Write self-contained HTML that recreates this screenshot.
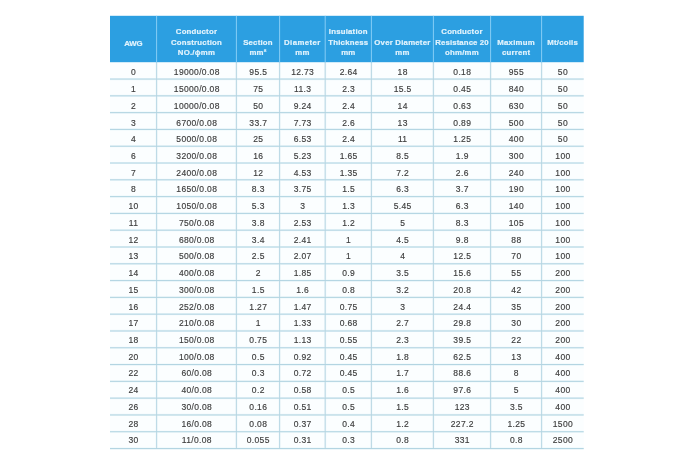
<!DOCTYPE html>
<html><head><meta charset="utf-8"><title>AWG table</title>
<style>
html,body{margin:0;padding:0;background:#fff;}
body{width:700px;height:467px;position:relative;overflow:hidden;font-family:"Liberation Sans",sans-serif;}
.hd{position:absolute;background:#2c9fe1;}
.hl{position:absolute;background:#86cdf6;width:1px;}
.h{position:absolute;text-align:center;color:#e1f3fd;-webkit-text-stroke:0.2px #e1f3fd;font-weight:bold;font-size:7.8px;line-height:10.85px;letter-spacing:0.22px;white-space:nowrap;}
.rl{position:absolute;height:1px;background:#b4dbec;}
.vl{position:absolute;width:1px;background:#b9deee;}
.c{position:absolute;text-align:center;color:#3c3c3c;-webkit-text-stroke:0.15px #3c3c3c;font-size:8.5px;line-height:10px;letter-spacing:0.34px;white-space:nowrap;}
</style></head><body>

<svg width="700" height="467" viewBox="0 0 700 467" style="position:absolute;left:0;top:0">
<rect x="110" y="62.2" width="473.7" height="386.34" fill="#fbfeff"/>
<line x1="110" x2="583.7" y1="79.05" y2="79.05" stroke="#ecf7fb" stroke-width="2.2"/>
<line x1="110" x2="583.7" y1="95.84" y2="95.84" stroke="#ecf7fb" stroke-width="2.2"/>
<line x1="110" x2="583.7" y1="112.64" y2="112.64" stroke="#ecf7fb" stroke-width="2.2"/>
<line x1="110" x2="583.7" y1="129.43" y2="129.43" stroke="#ecf7fb" stroke-width="2.2"/>
<line x1="110" x2="583.7" y1="146.23" y2="146.23" stroke="#ecf7fb" stroke-width="2.2"/>
<line x1="110" x2="583.7" y1="163.02" y2="163.02" stroke="#ecf7fb" stroke-width="2.2"/>
<line x1="110" x2="583.7" y1="179.81" y2="179.81" stroke="#ecf7fb" stroke-width="2.2"/>
<line x1="110" x2="583.7" y1="196.61" y2="196.61" stroke="#ecf7fb" stroke-width="2.2"/>
<line x1="110" x2="583.7" y1="213.41" y2="213.41" stroke="#ecf7fb" stroke-width="2.2"/>
<line x1="110" x2="583.7" y1="230.20" y2="230.20" stroke="#ecf7fb" stroke-width="2.2"/>
<line x1="110" x2="583.7" y1="247.00" y2="247.00" stroke="#ecf7fb" stroke-width="2.2"/>
<line x1="110" x2="583.7" y1="263.79" y2="263.79" stroke="#ecf7fb" stroke-width="2.2"/>
<line x1="110" x2="583.7" y1="280.59" y2="280.59" stroke="#ecf7fb" stroke-width="2.2"/>
<line x1="110" x2="583.7" y1="297.38" y2="297.38" stroke="#ecf7fb" stroke-width="2.2"/>
<line x1="110" x2="583.7" y1="314.18" y2="314.18" stroke="#ecf7fb" stroke-width="2.2"/>
<line x1="110" x2="583.7" y1="330.97" y2="330.97" stroke="#ecf7fb" stroke-width="2.2"/>
<line x1="110" x2="583.7" y1="347.77" y2="347.77" stroke="#ecf7fb" stroke-width="2.2"/>
<line x1="110" x2="583.7" y1="364.56" y2="364.56" stroke="#ecf7fb" stroke-width="2.2"/>
<line x1="110" x2="583.7" y1="381.36" y2="381.36" stroke="#ecf7fb" stroke-width="2.2"/>
<line x1="110" x2="583.7" y1="398.15" y2="398.15" stroke="#ecf7fb" stroke-width="2.2"/>
<line x1="110" x2="583.7" y1="414.95" y2="414.95" stroke="#ecf7fb" stroke-width="2.2"/>
<line x1="110" x2="583.7" y1="431.74" y2="431.74" stroke="#ecf7fb" stroke-width="2.2"/>
<line x1="110" x2="583.7" y1="448.54" y2="448.54" stroke="#ecf7fb" stroke-width="2.2"/>
<line x1="156.6" x2="156.6" y1="62.2" y2="448.54" stroke="#eff8fb" stroke-width="2.2"/>
<line x1="236.4" x2="236.4" y1="62.2" y2="448.54" stroke="#eff8fb" stroke-width="2.2"/>
<line x1="279.6" x2="279.6" y1="62.2" y2="448.54" stroke="#eff8fb" stroke-width="2.2"/>
<line x1="325.2" x2="325.2" y1="62.2" y2="448.54" stroke="#eff8fb" stroke-width="2.2"/>
<line x1="371.4" x2="371.4" y1="62.2" y2="448.54" stroke="#eff8fb" stroke-width="2.2"/>
<line x1="433.4" x2="433.4" y1="62.2" y2="448.54" stroke="#eff8fb" stroke-width="2.2"/>
<line x1="490.6" x2="490.6" y1="62.2" y2="448.54" stroke="#eff8fb" stroke-width="2.2"/>
<line x1="541.6" x2="541.6" y1="62.2" y2="448.54" stroke="#eff8fb" stroke-width="2.2"/>
<line x1="110" x2="583.7" y1="79.05" y2="79.05" stroke="#a9cfde" stroke-width="0.9"/>
<line x1="110" x2="583.7" y1="95.84" y2="95.84" stroke="#a9cfde" stroke-width="0.9"/>
<line x1="110" x2="583.7" y1="112.64" y2="112.64" stroke="#a9cfde" stroke-width="0.9"/>
<line x1="110" x2="583.7" y1="129.43" y2="129.43" stroke="#a9cfde" stroke-width="0.9"/>
<line x1="110" x2="583.7" y1="146.23" y2="146.23" stroke="#a9cfde" stroke-width="0.9"/>
<line x1="110" x2="583.7" y1="163.02" y2="163.02" stroke="#a9cfde" stroke-width="0.9"/>
<line x1="110" x2="583.7" y1="179.81" y2="179.81" stroke="#a9cfde" stroke-width="0.9"/>
<line x1="110" x2="583.7" y1="196.61" y2="196.61" stroke="#a9cfde" stroke-width="0.9"/>
<line x1="110" x2="583.7" y1="213.41" y2="213.41" stroke="#a9cfde" stroke-width="0.9"/>
<line x1="110" x2="583.7" y1="230.20" y2="230.20" stroke="#a9cfde" stroke-width="0.9"/>
<line x1="110" x2="583.7" y1="247.00" y2="247.00" stroke="#a9cfde" stroke-width="0.9"/>
<line x1="110" x2="583.7" y1="263.79" y2="263.79" stroke="#a9cfde" stroke-width="0.9"/>
<line x1="110" x2="583.7" y1="280.59" y2="280.59" stroke="#a9cfde" stroke-width="0.9"/>
<line x1="110" x2="583.7" y1="297.38" y2="297.38" stroke="#a9cfde" stroke-width="0.9"/>
<line x1="110" x2="583.7" y1="314.18" y2="314.18" stroke="#a9cfde" stroke-width="0.9"/>
<line x1="110" x2="583.7" y1="330.97" y2="330.97" stroke="#a9cfde" stroke-width="0.9"/>
<line x1="110" x2="583.7" y1="347.77" y2="347.77" stroke="#a9cfde" stroke-width="0.9"/>
<line x1="110" x2="583.7" y1="364.56" y2="364.56" stroke="#a9cfde" stroke-width="0.9"/>
<line x1="110" x2="583.7" y1="381.36" y2="381.36" stroke="#a9cfde" stroke-width="0.9"/>
<line x1="110" x2="583.7" y1="398.15" y2="398.15" stroke="#a9cfde" stroke-width="0.9"/>
<line x1="110" x2="583.7" y1="414.95" y2="414.95" stroke="#a9cfde" stroke-width="0.9"/>
<line x1="110" x2="583.7" y1="431.74" y2="431.74" stroke="#a9cfde" stroke-width="0.9"/>
<line x1="110" x2="583.7" y1="448.54" y2="448.54" stroke="#a9cfde" stroke-width="0.9"/>
<line x1="156.6" x2="156.6" y1="62.2" y2="448.54" stroke="#b2d4e1" stroke-width="0.9"/>
<line x1="236.4" x2="236.4" y1="62.2" y2="448.54" stroke="#b2d4e1" stroke-width="0.9"/>
<line x1="279.6" x2="279.6" y1="62.2" y2="448.54" stroke="#b2d4e1" stroke-width="0.9"/>
<line x1="325.2" x2="325.2" y1="62.2" y2="448.54" stroke="#b2d4e1" stroke-width="0.9"/>
<line x1="371.4" x2="371.4" y1="62.2" y2="448.54" stroke="#b2d4e1" stroke-width="0.9"/>
<line x1="433.4" x2="433.4" y1="62.2" y2="448.54" stroke="#b2d4e1" stroke-width="0.9"/>
<line x1="490.6" x2="490.6" y1="62.2" y2="448.54" stroke="#b2d4e1" stroke-width="0.9"/>
<line x1="541.6" x2="541.6" y1="62.2" y2="448.54" stroke="#b2d4e1" stroke-width="0.9"/>
<rect x="110" y="15.8" width="473.7" height="46.4" fill="#2c9fe1"/>
<line x1="156.6" x2="156.6" y1="15.8" y2="62.2" stroke="#86cdf6" stroke-width="1"/>
<line x1="236.4" x2="236.4" y1="15.8" y2="62.2" stroke="#86cdf6" stroke-width="1"/>
<line x1="279.6" x2="279.6" y1="15.8" y2="62.2" stroke="#86cdf6" stroke-width="1"/>
<line x1="325.2" x2="325.2" y1="15.8" y2="62.2" stroke="#86cdf6" stroke-width="1"/>
<line x1="371.4" x2="371.4" y1="15.8" y2="62.2" stroke="#86cdf6" stroke-width="1"/>
<line x1="433.4" x2="433.4" y1="15.8" y2="62.2" stroke="#86cdf6" stroke-width="1"/>
<line x1="490.6" x2="490.6" y1="15.8" y2="62.2" stroke="#86cdf6" stroke-width="1"/>
<line x1="541.6" x2="541.6" y1="15.8" y2="62.2" stroke="#86cdf6" stroke-width="1"/>
</svg>
<div class="h" style="left:100.0px;width:66.6px;top:38.8px"><span style="letter-spacing:-0.25px">AWG</span></div>
<div class="h" style="left:146.6px;width:99.8px;top:26.7px">Conductor<br>Construction<br>NO./ɸmm</div>
<div class="h" style="left:226.4px;width:63.2px;top:37.5px">Section<br>mm²</div>
<div class="h" style="left:269.6px;width:65.6px;top:37.5px"><span style="letter-spacing:0.42px">Diameter</span><br>mm</div>
<div class="h" style="left:315.2px;width:66.2px;top:26.7px">Insulation<br>Thickness<br>mm</div>
<div class="h" style="left:361.4px;width:82.0px;top:37.5px">Over Diameter<br>mm</div>
<div class="h" style="left:423.4px;width:77.2px;top:26.7px">Conductor<br><span style="letter-spacing:0.1px">Resistance 20</span><br>ohm/mm</div>
<div class="h" style="left:480.6px;width:71.0px;top:37.5px">Maximum<br>current</div>
<div class="h" style="left:531.6px;width:62.1px;top:37.8px">Mt/coils</div>
<div style="position:absolute;left:0;top:0;width:700px;height:467px">
<div class="c" style="left:110.3px;width:46.6px;top:67.3px">0</div>
<div class="c" style="left:156.9px;width:79.8px;top:67.3px">19000/0.08</div>
<div class="c" style="left:236.7px;width:43.2px;top:67.3px">95.5</div>
<div class="c" style="left:279.9px;width:45.6px;top:67.3px">12.73</div>
<div class="c" style="left:325.5px;width:46.2px;top:67.3px">2.64</div>
<div class="c" style="left:371.7px;width:62.0px;top:67.3px">18</div>
<div class="c" style="left:433.7px;width:57.2px;top:67.3px">0.18</div>
<div class="c" style="left:490.9px;width:51.0px;top:67.3px">955</div>
<div class="c" style="left:541.9px;width:42.1px;top:67.3px">50</div>
<div class="c" style="left:110.3px;width:46.6px;top:84.0px">1</div>
<div class="c" style="left:156.9px;width:79.8px;top:84.0px">15000/0.08</div>
<div class="c" style="left:236.7px;width:43.2px;top:84.0px">75</div>
<div class="c" style="left:279.9px;width:45.6px;top:84.0px">11.3</div>
<div class="c" style="left:325.5px;width:46.2px;top:84.0px">2.3</div>
<div class="c" style="left:371.7px;width:62.0px;top:84.0px">15.5</div>
<div class="c" style="left:433.7px;width:57.2px;top:84.0px">0.45</div>
<div class="c" style="left:490.9px;width:51.0px;top:84.0px">840</div>
<div class="c" style="left:541.9px;width:42.1px;top:84.0px">50</div>
<div class="c" style="left:110.3px;width:46.6px;top:100.8px">2</div>
<div class="c" style="left:156.9px;width:79.8px;top:100.8px">10000/0.08</div>
<div class="c" style="left:236.7px;width:43.2px;top:100.8px">50</div>
<div class="c" style="left:279.9px;width:45.6px;top:100.8px">9.24</div>
<div class="c" style="left:325.5px;width:46.2px;top:100.8px">2.4</div>
<div class="c" style="left:371.7px;width:62.0px;top:100.8px">14</div>
<div class="c" style="left:433.7px;width:57.2px;top:100.8px">0.63</div>
<div class="c" style="left:490.9px;width:51.0px;top:100.8px">630</div>
<div class="c" style="left:541.9px;width:42.1px;top:100.8px">50</div>
<div class="c" style="left:110.3px;width:46.6px;top:117.5px">3</div>
<div class="c" style="left:156.9px;width:79.8px;top:117.5px">6700/0.08</div>
<div class="c" style="left:236.7px;width:43.2px;top:117.5px">33.7</div>
<div class="c" style="left:279.9px;width:45.6px;top:117.5px">7.73</div>
<div class="c" style="left:325.5px;width:46.2px;top:117.5px">2.6</div>
<div class="c" style="left:371.7px;width:62.0px;top:117.5px">13</div>
<div class="c" style="left:433.7px;width:57.2px;top:117.5px">0.89</div>
<div class="c" style="left:490.9px;width:51.0px;top:117.5px">500</div>
<div class="c" style="left:541.9px;width:42.1px;top:117.5px">50</div>
<div class="c" style="left:110.3px;width:46.6px;top:134.2px">4</div>
<div class="c" style="left:156.9px;width:79.8px;top:134.2px">5000/0.08</div>
<div class="c" style="left:236.7px;width:43.2px;top:134.2px">25</div>
<div class="c" style="left:279.9px;width:45.6px;top:134.2px">6.53</div>
<div class="c" style="left:325.5px;width:46.2px;top:134.2px">2.4</div>
<div class="c" style="left:371.7px;width:62.0px;top:134.2px">11</div>
<div class="c" style="left:433.7px;width:57.2px;top:134.2px">1.25</div>
<div class="c" style="left:490.9px;width:51.0px;top:134.2px">400</div>
<div class="c" style="left:541.9px;width:42.1px;top:134.2px">50</div>
<div class="c" style="left:110.3px;width:46.6px;top:150.9px">6</div>
<div class="c" style="left:156.9px;width:79.8px;top:150.9px">3200/0.08</div>
<div class="c" style="left:236.7px;width:43.2px;top:150.9px">16</div>
<div class="c" style="left:279.9px;width:45.6px;top:150.9px">5.23</div>
<div class="c" style="left:325.5px;width:46.2px;top:150.9px">1.65</div>
<div class="c" style="left:371.7px;width:62.0px;top:150.9px">8.5</div>
<div class="c" style="left:433.7px;width:57.2px;top:150.9px">1.9</div>
<div class="c" style="left:490.9px;width:51.0px;top:150.9px">300</div>
<div class="c" style="left:541.9px;width:42.1px;top:150.9px">100</div>
<div class="c" style="left:110.3px;width:46.6px;top:167.7px">7</div>
<div class="c" style="left:156.9px;width:79.8px;top:167.7px">2400/0.08</div>
<div class="c" style="left:236.7px;width:43.2px;top:167.7px">12</div>
<div class="c" style="left:279.9px;width:45.6px;top:167.7px">4.53</div>
<div class="c" style="left:325.5px;width:46.2px;top:167.7px">1.35</div>
<div class="c" style="left:371.7px;width:62.0px;top:167.7px">7.2</div>
<div class="c" style="left:433.7px;width:57.2px;top:167.7px">2.6</div>
<div class="c" style="left:490.9px;width:51.0px;top:167.7px">240</div>
<div class="c" style="left:541.9px;width:42.1px;top:167.7px">100</div>
<div class="c" style="left:110.3px;width:46.6px;top:184.4px">8</div>
<div class="c" style="left:156.9px;width:79.8px;top:184.4px">1650/0.08</div>
<div class="c" style="left:236.7px;width:43.2px;top:184.4px">8.3</div>
<div class="c" style="left:279.9px;width:45.6px;top:184.4px">3.75</div>
<div class="c" style="left:325.5px;width:46.2px;top:184.4px">1.5</div>
<div class="c" style="left:371.7px;width:62.0px;top:184.4px">6.3</div>
<div class="c" style="left:433.7px;width:57.2px;top:184.4px">3.7</div>
<div class="c" style="left:490.9px;width:51.0px;top:184.4px">190</div>
<div class="c" style="left:541.9px;width:42.1px;top:184.4px">100</div>
<div class="c" style="left:110.3px;width:46.6px;top:201.1px">10</div>
<div class="c" style="left:156.9px;width:79.8px;top:201.1px">1050/0.08</div>
<div class="c" style="left:236.7px;width:43.2px;top:201.1px">5.3</div>
<div class="c" style="left:279.9px;width:45.6px;top:201.1px">3</div>
<div class="c" style="left:325.5px;width:46.2px;top:201.1px">1.3</div>
<div class="c" style="left:371.7px;width:62.0px;top:201.1px">5.45</div>
<div class="c" style="left:433.7px;width:57.2px;top:201.1px">6.3</div>
<div class="c" style="left:490.9px;width:51.0px;top:201.1px">140</div>
<div class="c" style="left:541.9px;width:42.1px;top:201.1px">100</div>
<div class="c" style="left:110.3px;width:46.6px;top:217.9px">11</div>
<div class="c" style="left:156.9px;width:79.8px;top:217.9px">750/0.08</div>
<div class="c" style="left:236.7px;width:43.2px;top:217.9px">3.8</div>
<div class="c" style="left:279.9px;width:45.6px;top:217.9px">2.53</div>
<div class="c" style="left:325.5px;width:46.2px;top:217.9px">1.2</div>
<div class="c" style="left:371.7px;width:62.0px;top:217.9px">5</div>
<div class="c" style="left:433.7px;width:57.2px;top:217.9px">8.3</div>
<div class="c" style="left:490.9px;width:51.0px;top:217.9px">105</div>
<div class="c" style="left:541.9px;width:42.1px;top:217.9px">100</div>
<div class="c" style="left:110.3px;width:46.6px;top:234.6px">12</div>
<div class="c" style="left:156.9px;width:79.8px;top:234.6px">680/0.08</div>
<div class="c" style="left:236.7px;width:43.2px;top:234.6px">3.4</div>
<div class="c" style="left:279.9px;width:45.6px;top:234.6px">2.41</div>
<div class="c" style="left:325.5px;width:46.2px;top:234.6px">1</div>
<div class="c" style="left:371.7px;width:62.0px;top:234.6px">4.5</div>
<div class="c" style="left:433.7px;width:57.2px;top:234.6px">9.8</div>
<div class="c" style="left:490.9px;width:51.0px;top:234.6px">88</div>
<div class="c" style="left:541.9px;width:42.1px;top:234.6px">100</div>
<div class="c" style="left:110.3px;width:46.6px;top:251.3px">13</div>
<div class="c" style="left:156.9px;width:79.8px;top:251.3px">500/0.08</div>
<div class="c" style="left:236.7px;width:43.2px;top:251.3px">2.5</div>
<div class="c" style="left:279.9px;width:45.6px;top:251.3px">2.07</div>
<div class="c" style="left:325.5px;width:46.2px;top:251.3px">1</div>
<div class="c" style="left:371.7px;width:62.0px;top:251.3px">4</div>
<div class="c" style="left:433.7px;width:57.2px;top:251.3px">12.5</div>
<div class="c" style="left:490.9px;width:51.0px;top:251.3px">70</div>
<div class="c" style="left:541.9px;width:42.1px;top:251.3px">100</div>
<div class="c" style="left:110.3px;width:46.6px;top:268.1px">14</div>
<div class="c" style="left:156.9px;width:79.8px;top:268.1px">400/0.08</div>
<div class="c" style="left:236.7px;width:43.2px;top:268.1px">2</div>
<div class="c" style="left:279.9px;width:45.6px;top:268.1px">1.85</div>
<div class="c" style="left:325.5px;width:46.2px;top:268.1px">0.9</div>
<div class="c" style="left:371.7px;width:62.0px;top:268.1px">3.5</div>
<div class="c" style="left:433.7px;width:57.2px;top:268.1px">15.6</div>
<div class="c" style="left:490.9px;width:51.0px;top:268.1px">55</div>
<div class="c" style="left:541.9px;width:42.1px;top:268.1px">200</div>
<div class="c" style="left:110.3px;width:46.6px;top:284.8px">15</div>
<div class="c" style="left:156.9px;width:79.8px;top:284.8px">300/0.08</div>
<div class="c" style="left:236.7px;width:43.2px;top:284.8px">1.5</div>
<div class="c" style="left:279.9px;width:45.6px;top:284.8px">1.6</div>
<div class="c" style="left:325.5px;width:46.2px;top:284.8px">0.8</div>
<div class="c" style="left:371.7px;width:62.0px;top:284.8px">3.2</div>
<div class="c" style="left:433.7px;width:57.2px;top:284.8px">20.8</div>
<div class="c" style="left:490.9px;width:51.0px;top:284.8px">42</div>
<div class="c" style="left:541.9px;width:42.1px;top:284.8px">200</div>
<div class="c" style="left:110.3px;width:46.6px;top:301.5px">16</div>
<div class="c" style="left:156.9px;width:79.8px;top:301.5px">252/0.08</div>
<div class="c" style="left:236.7px;width:43.2px;top:301.5px">1.27</div>
<div class="c" style="left:279.9px;width:45.6px;top:301.5px">1.47</div>
<div class="c" style="left:325.5px;width:46.2px;top:301.5px">0.75</div>
<div class="c" style="left:371.7px;width:62.0px;top:301.5px">3</div>
<div class="c" style="left:433.7px;width:57.2px;top:301.5px">24.4</div>
<div class="c" style="left:490.9px;width:51.0px;top:301.5px">35</div>
<div class="c" style="left:541.9px;width:42.1px;top:301.5px">200</div>
<div class="c" style="left:110.3px;width:46.6px;top:318.2px">17</div>
<div class="c" style="left:156.9px;width:79.8px;top:318.2px">210/0.08</div>
<div class="c" style="left:236.7px;width:43.2px;top:318.2px">1</div>
<div class="c" style="left:279.9px;width:45.6px;top:318.2px">1.33</div>
<div class="c" style="left:325.5px;width:46.2px;top:318.2px">0.68</div>
<div class="c" style="left:371.7px;width:62.0px;top:318.2px">2.7</div>
<div class="c" style="left:433.7px;width:57.2px;top:318.2px">29.8</div>
<div class="c" style="left:490.9px;width:51.0px;top:318.2px">30</div>
<div class="c" style="left:541.9px;width:42.1px;top:318.2px">200</div>
<div class="c" style="left:110.3px;width:46.6px;top:335.0px">18</div>
<div class="c" style="left:156.9px;width:79.8px;top:335.0px">150/0.08</div>
<div class="c" style="left:236.7px;width:43.2px;top:335.0px">0.75</div>
<div class="c" style="left:279.9px;width:45.6px;top:335.0px">1.13</div>
<div class="c" style="left:325.5px;width:46.2px;top:335.0px">0.55</div>
<div class="c" style="left:371.7px;width:62.0px;top:335.0px">2.3</div>
<div class="c" style="left:433.7px;width:57.2px;top:335.0px">39.5</div>
<div class="c" style="left:490.9px;width:51.0px;top:335.0px">22</div>
<div class="c" style="left:541.9px;width:42.1px;top:335.0px">200</div>
<div class="c" style="left:110.3px;width:46.6px;top:351.7px">20</div>
<div class="c" style="left:156.9px;width:79.8px;top:351.7px">100/0.08</div>
<div class="c" style="left:236.7px;width:43.2px;top:351.7px">0.5</div>
<div class="c" style="left:279.9px;width:45.6px;top:351.7px">0.92</div>
<div class="c" style="left:325.5px;width:46.2px;top:351.7px">0.45</div>
<div class="c" style="left:371.7px;width:62.0px;top:351.7px">1.8</div>
<div class="c" style="left:433.7px;width:57.2px;top:351.7px">62.5</div>
<div class="c" style="left:490.9px;width:51.0px;top:351.7px">13</div>
<div class="c" style="left:541.9px;width:42.1px;top:351.7px">400</div>
<div class="c" style="left:110.3px;width:46.6px;top:368.4px">22</div>
<div class="c" style="left:156.9px;width:79.8px;top:368.4px">60/0.08</div>
<div class="c" style="left:236.7px;width:43.2px;top:368.4px">0.3</div>
<div class="c" style="left:279.9px;width:45.6px;top:368.4px">0.72</div>
<div class="c" style="left:325.5px;width:46.2px;top:368.4px">0.45</div>
<div class="c" style="left:371.7px;width:62.0px;top:368.4px">1.7</div>
<div class="c" style="left:433.7px;width:57.2px;top:368.4px">88.6</div>
<div class="c" style="left:490.9px;width:51.0px;top:368.4px">8</div>
<div class="c" style="left:541.9px;width:42.1px;top:368.4px">400</div>
<div class="c" style="left:110.3px;width:46.6px;top:385.2px">24</div>
<div class="c" style="left:156.9px;width:79.8px;top:385.2px">40/0.08</div>
<div class="c" style="left:236.7px;width:43.2px;top:385.2px">0.2</div>
<div class="c" style="left:279.9px;width:45.6px;top:385.2px">0.58</div>
<div class="c" style="left:325.5px;width:46.2px;top:385.2px">0.5</div>
<div class="c" style="left:371.7px;width:62.0px;top:385.2px">1.6</div>
<div class="c" style="left:433.7px;width:57.2px;top:385.2px">97.6</div>
<div class="c" style="left:490.9px;width:51.0px;top:385.2px">5</div>
<div class="c" style="left:541.9px;width:42.1px;top:385.2px">400</div>
<div class="c" style="left:110.3px;width:46.6px;top:401.9px">26</div>
<div class="c" style="left:156.9px;width:79.8px;top:401.9px">30/0.08</div>
<div class="c" style="left:236.7px;width:43.2px;top:401.9px">0.16</div>
<div class="c" style="left:279.9px;width:45.6px;top:401.9px">0.51</div>
<div class="c" style="left:325.5px;width:46.2px;top:401.9px">0.5</div>
<div class="c" style="left:371.7px;width:62.0px;top:401.9px">1.5</div>
<div class="c" style="left:433.7px;width:57.2px;top:401.9px">123</div>
<div class="c" style="left:490.9px;width:51.0px;top:401.9px">3.5</div>
<div class="c" style="left:541.9px;width:42.1px;top:401.9px">400</div>
<div class="c" style="left:110.3px;width:46.6px;top:418.6px">28</div>
<div class="c" style="left:156.9px;width:79.8px;top:418.6px">16/0.08</div>
<div class="c" style="left:236.7px;width:43.2px;top:418.6px">0.08</div>
<div class="c" style="left:279.9px;width:45.6px;top:418.6px">0.37</div>
<div class="c" style="left:325.5px;width:46.2px;top:418.6px">0.4</div>
<div class="c" style="left:371.7px;width:62.0px;top:418.6px">1.2</div>
<div class="c" style="left:433.7px;width:57.2px;top:418.6px">227.2</div>
<div class="c" style="left:490.9px;width:51.0px;top:418.6px">1.25</div>
<div class="c" style="left:541.9px;width:42.1px;top:418.6px">1500</div>
<div class="c" style="left:110.3px;width:46.6px;top:435.4px">30</div>
<div class="c" style="left:156.9px;width:79.8px;top:435.4px">11/0.08</div>
<div class="c" style="left:236.7px;width:43.2px;top:435.4px">0.055</div>
<div class="c" style="left:279.9px;width:45.6px;top:435.4px">0.31</div>
<div class="c" style="left:325.5px;width:46.2px;top:435.4px">0.3</div>
<div class="c" style="left:371.7px;width:62.0px;top:435.4px">0.8</div>
<div class="c" style="left:433.7px;width:57.2px;top:435.4px">331</div>
<div class="c" style="left:490.9px;width:51.0px;top:435.4px">0.8</div>
<div class="c" style="left:541.9px;width:42.1px;top:435.4px">2500</div>
</div>
</body></html>
